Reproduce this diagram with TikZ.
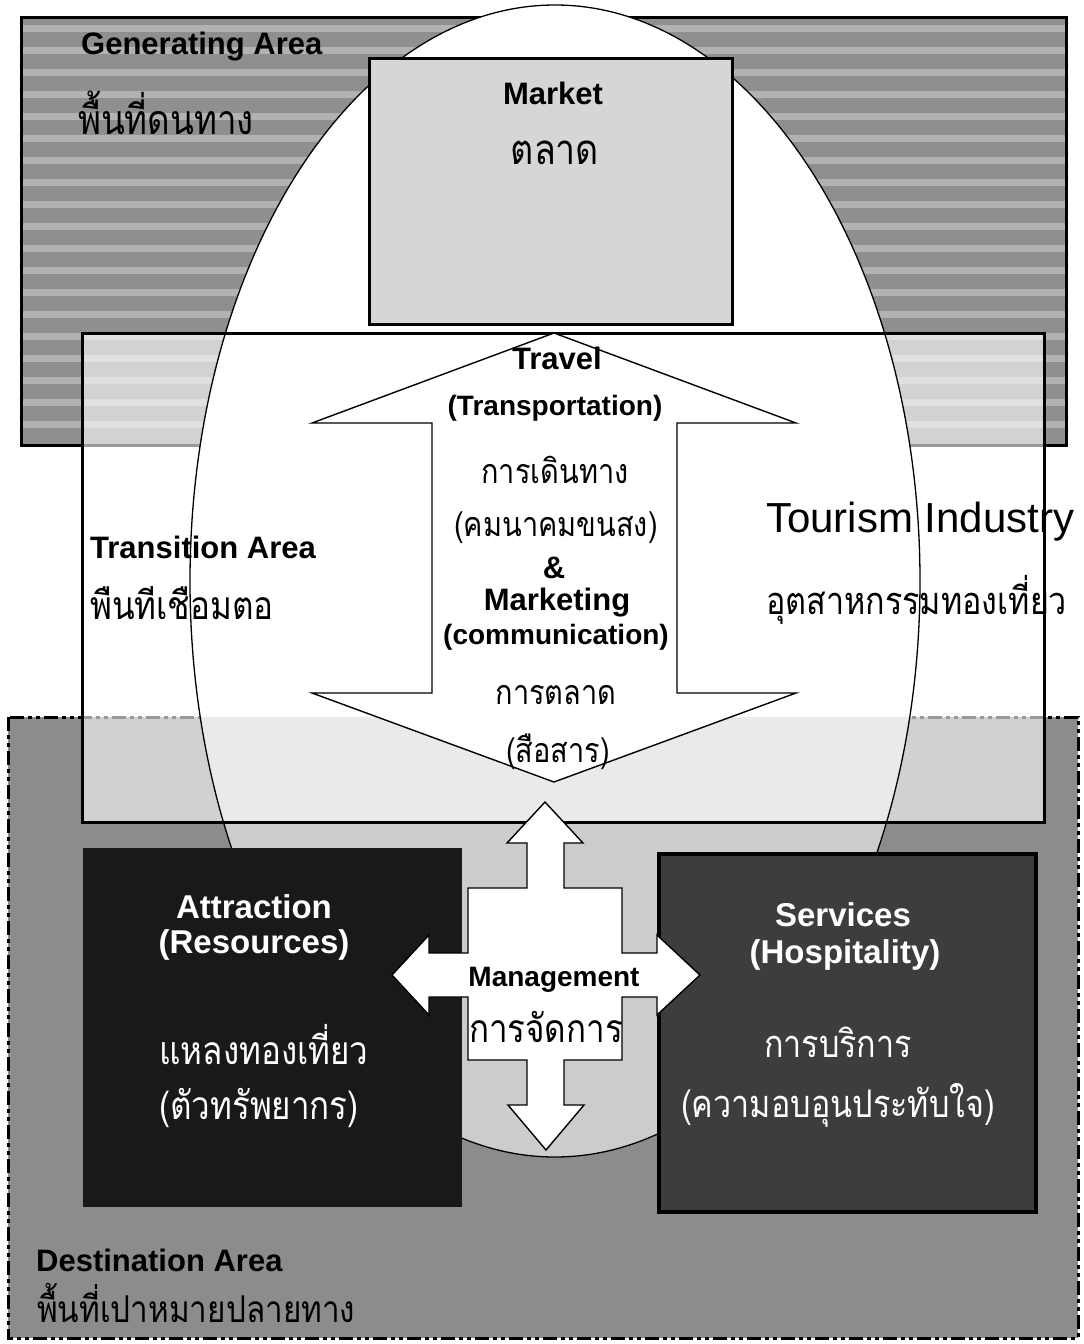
\documentclass[tikz,border=0pt]{standalone}
\usepackage{fontspec}
\setmainfont{Liberation Sans}
\newfontfamily\thaifont[Script=Thai,FakeStretch=0.85]{Loma}
\usetikzlibrary{calc}

\tikzset{
  area/.style={font=\fontsize{31}{31}\selectfont\bfseries, anchor=west, inner sep=0pt},
  tharea/.style={font=\thaifont\fontsize{39}{39}\selectfont, anchor=west, inner sep=0pt},
  lbl/.style={font=\fontsize{31}{31}\selectfont\bfseries, inner sep=0pt},
  sublbl/.style={font=\fontsize{28}{28}\selectfont\bfseries, inner sep=0pt},
  thlbl/.style={font=\thaifont\fontsize{34}{34}\selectfont, inner sep=0pt},
  boxlbl/.style={font=\fontsize{33}{33}\selectfont\bfseries, inner sep=0pt, text=white},
  thbox/.style={font=\thaifont\fontsize{39}{39}\selectfont, inner sep=0pt, text=white},
  arrowbox/.style={fill=white, draw=black, line width=1.4pt, line join=miter},
  desborder/.style={line width=3pt, dash pattern=on 14pt off 4pt on 4pt off 4pt on 4pt off 4pt}
}

\begin{document}
\begin{tikzpicture}[x=1pt,y=-1pt]

\useasboundingbox (0,0) rectangle (1084,1344);

%Generating
\coordinate (g1) at (21,17);
\coordinate (g2) at (1066,445);
\begin{scope}
\clip (g1) rectangle (g2);
\fill[black!44] (g1) rectangle (g2);
\foreach \yy in {28,50,...,445}
  \draw[black!30, line width=7pt] (0,\yy) -- (1084,\yy);
\end{scope}
\draw[line width=3pt] (g1) rectangle (g2);

%Destination
\coordinate (d1) at (8,717);
\coordinate (d2) at (1078,1338);
\fill[black!45] (d1) rectangle (d2);
\draw[desborder] (d1) rectangle (d2);

%Ellisse
\coordinate (e) at (555,581);
\fill[white] (e) ellipse [x radius=365pt, y radius=576pt];
\begin{scope}
\clip (d1) rectangle (d2);
\fill[black!20] (e) ellipse [x radius=365pt, y radius=576pt];
\end{scope}

%Transition
\coordinate (t1) at (82,333);
\coordinate (t2) at (1044,822);
\fill[white, opacity=0.6] (t1) rectangle (t2);

%Aree
\node[area] (gen) at (81,47) {Generating Area};
\node[tharea, font=\thaifont\fontsize{41}{41}\selectfont] (genth) at (78,113) {พื้นที่ดนทาง};
\node[area] (tra) at (90,547) {Transition Area};
\node[tharea] (trath) at (90,603) {พืนทีเชือมตอ};
\node[font=\fontsize{42}{42}\selectfont, anchor=west, inner sep=0pt] (ind) at (766,522) {Tourism Industry};
\node[tharea, font=\thaifont\fontsize{38}{38}\selectfont] (indth) at (766,600) {อุตสาหกรรมทองเที่ยว};
\node[area] (des) at (36,1260) {Destination Area};
\node[tharea, font=\thaifont\fontsize{37}{37}\selectfont] (desth) at (37,1303) {พื้นที่เปาหมายปลายทาง};

\draw[line width=1.3pt] (e) ellipse [x radius=365pt, y radius=576pt];
\draw[line width=3pt] (t1) rectangle (t2);

%Market
\node[draw, line width=3pt, fill=black!16, minimum width=363pt, minimum height=266pt,
  anchor=north west] (mkt) at (368,57) {};
\node[lbl] (mkttx) at (553,93) {Market};
\node[thlbl, font=\thaifont\fontsize{42}{42}\selectfont] (mktth) at (555,153) {ตลาด};

%Travel
\draw[arrowbox] (554,333) -- (796,423) -- (677,423) -- (677,693) -- (796,693)
  -- (554,782) -- (312,693) -- (432,693) -- (432,423) -- (312,423) -- cycle;
\node[lbl] (trv) at (557,358) {Travel};
\node[sublbl] (trvsub) at (555,408) {(Transportation)};
\node[thlbl] (trvth) at (555,470) {การเดินทาง};
\node[thlbl] (trvth2) at (556,528) {(คมนาคมขนสง)};
\node[lbl] (amp) at (554,568) {\&};
\node[lbl] (mkg) at (557,603) {Marketing};
\node[sublbl] (mkgsub) at (556,637) {(communication)};
\node[thlbl] (mkgth) at (556,695) {การตลาด};
\node[thlbl] (mkgth2) at (558,752) {(สือสาร)};

%Attraction
\node[fill=black!90, minimum width=379pt, minimum height=359pt, anchor=north west] (att) at (83,848) {};
\node[boxlbl] (atttx) at (254,907) {Attraction};
\node[boxlbl] (attsub) at (254,945) {(Resources)};
\node[thbox] (attth) at (264,1045) {แหลงทองเที่ยว};
\node[thbox] (attth2) at (259,1108) {(ตัวทรัพยากร)};

%Services
\node[draw, line width=4pt, fill=black!76, minimum width=377pt, minimum height=358pt,
  anchor=north west] (ser) at (657,852) {};
\node[boxlbl] (sertx) at (843,915) {Services};
\node[boxlbl] (sersub) at (845,955) {(Hospitality)};
\node[thbox, font=\thaifont\fontsize{38}{38}\selectfont] (serth) at (838,1042) {การบริการ};
\node[thbox, font=\thaifont\fontsize{38}{38}\selectfont] (serth2) at (838,1105) {(ความอบอุนประทับใจ)};

%Management
\draw[arrowbox] (545,802) -- (583,843) -- (564,843) -- (564,888) -- (622,888)
  -- (622,953) -- (657,953) -- (657,935) -- (700,975) -- (657,1015) -- (657,997)
  -- (622,997) -- (622,1060) -- (564,1060) -- (564,1105) -- (584,1105)
  -- (546,1150) -- (508,1105) -- (527,1105) -- (527,1060) -- (468,1060)
  -- (468,997) -- (429,997) -- (429,1015) -- (392,975) -- (429,935) -- (429,953)
  -- (468,953) -- (468,888) -- (527,888) -- (527,843) -- (507,843) -- cycle;
\node[sublbl] (mng) at (554,980) {Management};
\node[thlbl, font=\thaifont\fontsize{39}{39}\selectfont] (mngth) at (546,1027) {การจัดการ};

\end{tikzpicture}
\end{document}
